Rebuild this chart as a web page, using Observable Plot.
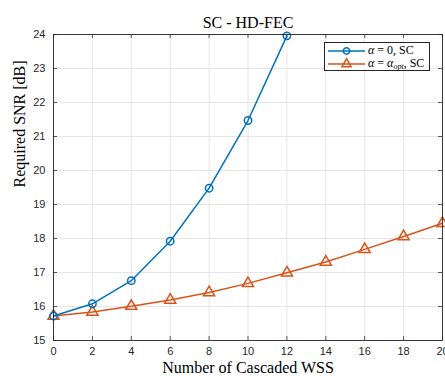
<!DOCTYPE html>
<html>
<head>
<meta charset="utf-8">
<script src="https://cdn.jsdelivr.net/npm/d3@7"></script>
<script src="https://cdn.jsdelivr.net/npm/@observablehq/plot@0.6"></script>
<style>
  html, body { margin: 0; padding: 0; background: #fff; overflow: hidden; }
  #wrap { position: relative; width: 445px; height: 376px; }
  #legend { position: absolute; left: 324px; top: 42px; width: 106px; height: 29px;
    border: 0.75px solid #262626; background: #fff; box-sizing: border-box;
    font-family: "Liberation Serif", serif; font-size: 12px; color: #000; }
  .entry { position: absolute; left: 0; height: 14px; width: 100%; }
  .entry svg { position: absolute; left: 3px; top: 0; }
  .entry span.t { position: absolute; left: 43px; top: -1px; white-space: nowrap; }
  .eq { margin: 0 3px; }
  i { font-style: italic; }
  sub { font-size: 8px; vertical-align: -2px; line-height: 0; }
</style>
</head>
<body>
<div id="wrap"></div>
<script>
const title = "SC - HD-FEC";
const xLabel = "Number of Cascaded WSS";
const yLabel = "Required SNR [dB]";
const xTicks = [0, 2, 4, 6, 8, 10, 12, 14, 16, 18, 20];
const yTicks = [15, 16, 17, 18, 19, 20, 21, 22, 23, 24];

const blueX = [0, 2, 4, 6, 8, 10, 12];
const blueY = [15.72, 16.08, 16.76, 17.92, 19.48, 21.47, 23.96];
const orangeX = [0, 2, 4, 6, 8, 10, 12, 14, 16, 18, 20];
const orangeY = [15.72, 15.84, 16.01, 16.19, 16.41, 16.68, 16.99, 17.31, 17.68, 18.06, 18.45];

const blueColor = "#0072BD";
const orangeColor = "#D95319";
const axisColor = "#262626";

const blue = blueX.map((x, i) => ({x, y: blueY[i]}));
const orange = orangeX.map((x, i) => ({x, y: orangeY[i]}));

const W = 445, H = 376, mL = 53, mR = 3, mT = 34, mB = 36;
const fw = W - mL - mR, fh = H - mT - mB;

const chart = Plot.plot({
  width: W, height: H,
  marginLeft: mL, marginRight: mR, marginTop: mT, marginBottom: mB,
  style: {fontFamily: "Liberation Sans, Arial, sans-serif", fontSize: "11px", background: "#fff", color: axisColor},
  x: {domain: [0, 20]},
  y: {domain: [15, 24]},
  marks: [
    Plot.gridX(xTicks, {stroke: "#dedede", strokeOpacity: 1, strokeWidth: 0.75}),
    Plot.gridY(yTicks, {stroke: "#dedede", strokeOpacity: 1, strokeWidth: 0.75}),
    Plot.axisX(xTicks, {tickSize: 0, tickPadding: 7, label: null, fill: axisColor, fontSize: 11}),
    Plot.axisY(yTicks, {tickSize: 0, tickPadding: 8, label: null, fill: axisColor, fontSize: 11}),
    Plot.tickX(xTicks, {x: d => d, insetTop: fh - 4, stroke: axisColor, strokeWidth: 0.75}),
    Plot.tickX(xTicks, {x: d => d, insetBottom: fh - 4, stroke: axisColor, strokeWidth: 0.75}),
    Plot.tickY(yTicks, {y: d => d, insetRight: fw - 4, stroke: axisColor, strokeWidth: 0.75}),
    Plot.tickY(yTicks, {y: d => d, insetLeft: fw - 4, stroke: axisColor, strokeWidth: 0.75}),
    Plot.line(orange, {x: "x", y: "y", stroke: orangeColor, strokeWidth: 1.5}),
    Plot.dot(orange, {x: "x", y: "y", symbol: "triangle", r: 4.1, stroke: orangeColor, strokeWidth: 1.5, fill: "none"}),
    Plot.line(blue, {x: "x", y: "y", stroke: blueColor, strokeWidth: 1.5}),
    Plot.dot(blue, {x: "x", y: "y", symbol: "circle", r: 3.7, stroke: blueColor, strokeWidth: 1.5, fill: "none"}),
    Plot.frame({stroke: axisColor, strokeWidth: 0.9}),
    Plot.text([title], {frameAnchor: "top", lineAnchor: "bottom", dy: -7, fontFamily: "Liberation Serif, serif", fontSize: 16, fill: "#000"}),
    Plot.text([xLabel], {frameAnchor: "bottom", lineAnchor: "middle", dy: 27.5, fontFamily: "Liberation Serif, serif", fontSize: 16, fill: "#000"}),
    Plot.text([yLabel], {frameAnchor: "left", rotate: -90, lineAnchor: "top", dx: -40, fontFamily: "Liberation Serif, serif", fontSize: 16, fill: "#000"})
  ]
});
document.getElementById("wrap").appendChild(chart);

// legend
const legend = document.createElement("div");
legend.id = "legend";
const entries = [
  {color: blueColor, symbol: "circle", html: '<i>α</i><span class="eq">=</span>0, SC', top: 1},
  {color: orangeColor, symbol: "triangle", html: '<i>α</i><span class="eq">=</span><i>α</i><sub><i>opt</i></sub>, SC', top: 14}
];
for (const e of entries) {
  const div = document.createElement("div");
  div.className = "entry";
  div.style.top = e.top + "px";
  const svg = d3.create("svg").attr("width", 38).attr("height", 14);
  svg.append("line").attr("x1", 0).attr("x2", 37).attr("y1", 7).attr("y2", 7)
    .attr("stroke", e.color).attr("stroke-width", 1.5);
  const sym = e.symbol === "circle" ? d3.symbolCircle : d3.symbolTriangle;
  const size = e.symbol === "circle" ? Math.PI * 3.2 * 3.2 : 36;
  svg.append("path").attr("d", d3.symbol(sym, size)())
    .attr("transform", "translate(18.5,7)")
    .attr("fill", "none").attr("stroke", e.color).attr("stroke-width", 1.5);
  div.appendChild(svg.node());
  const span = document.createElement("span");
  span.className = "t";
  span.innerHTML = e.html;
  div.appendChild(span);
  legend.appendChild(div);
}
document.getElementById("wrap").appendChild(legend);
</script>
</body>
</html>
